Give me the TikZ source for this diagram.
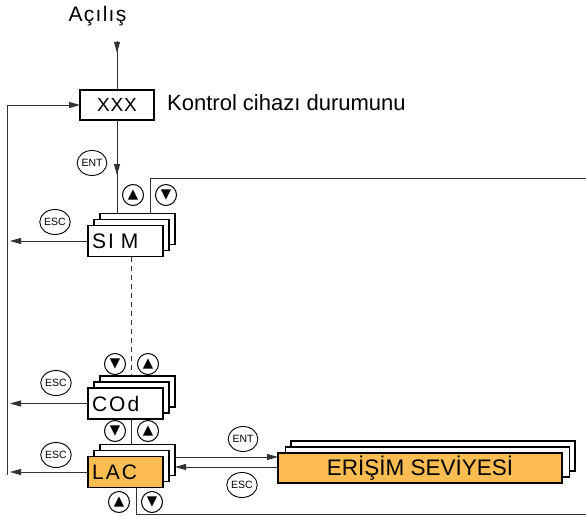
\documentclass[tikz,border=0pt]{standalone}
\usepackage{fontspec}
\setmainfont{Liberation Sans}
\newfontfamily\symfont{DejaVu Sans}
\usetikzlibrary{arrows.meta,decorations.markings,shapes.geometric}
\definecolor{accor}{RGB}{251,188,82}
\definecolor{lncol}{RGB}{50,50,50}
\begin{document}
\begin{tikzpicture}[x=1pt,y=-1pt,
  card/.style={draw=black, line width=1.8pt, fill=white, minimum width=75pt, minimum height=31pt, inner sep=0pt, outer sep=0pt},
  disp/.style={font=\fontsize{21}{21}\selectfont\addfontfeature{LetterSpace=10}, text width=67pt, align=left, inner xsep=4pt},
  btn/.style={draw=black, line width=1pt, circle, fill=white, minimum size=21pt, inner sep=0pt, font=\symfont\fontsize{13.5}{13.5}\selectfont},
  keybtn/.style={draw=black, line width=0.9pt, ellipse, fill=white, minimum width=28pt, minimum height=25pt, inner sep=0pt, font=\fontsize{10.5}{10.5}\selectfont},
  conn/.style={draw=lncol, line width=0.9pt},
  hd/.tip={Triangle[length=11pt,width=6pt]},
  midarr/.style={postaction={decorate}, decoration={markings, mark=at position #1 with {\arrow{hd}}}},
]
\path[use as bounding box] (0,0) rectangle (586,519);

% texts
\node[font=\fontsize{21}{21}\selectfont\addfontfeature{LetterSpace=6}, anchor=base, inner sep=0pt] (acilis) at (97.5,22) {Açılış};
\coordinate (acstart) at (117,41);
\node[card, minimum width=74pt, minimum height=30pt, font=\fontsize{19}{19}\selectfont\addfontfeature{LetterSpace=4}] (xxx) at (117,105) {XXX};
\node[font=\fontsize{22}{22}\selectfont, anchor=base west, inner sep=0pt] (ctl) at (167,110) {Kontrol cihazı durumunu};

% SIM stack
\node[card] (simB) at (137.5,229) {};
\node[card] (simM) at (131.5,235) {};
\node[card, disp] (sim) at (125.5,241) {SI M};

% COd stack
\node[card] (codB) at (137.5,391.5) {};
\node[card] (codM) at (131.5,397.5) {};
\node[card, disp] (cod) at (125.5,403.5) {COd};

% LAC stack
\node[card] (lacB) at (137.5,460) {};
\node[card] (lacM) at (131.5,466) {};
\node[card, disp, fill=accor] (lac) at (125.5,472) {LAC};

% ERISIM stack
\node[card, minimum width=284pt, minimum height=30pt] (eriB) at (433,456) {};
\node[card, minimum width=284pt, minimum height=30pt] (eriM) at (427.5,462) {};
\node[card, minimum width=284pt, minimum height=30pt, fill=accor, font=\fontsize{22.5}{22.5}\selectfont] (eri) at (420,468) {ERİŞİM SEVİYESİ};

% coordinates
\coordinate (loopbot) at (7,475);
\coordinate (escL) at (10,0);
\coordinate (rt1) at (586,178);
\coordinate (rt2) at (586,514);

% connectors
\draw[conn, midarr=0.24] (acstart) -- (xxx.north);
\draw[conn, midarr=0.59] (xxx.south) -- (xxx.south |- simB.north);
\draw[conn, -{hd}] (loopbot) |- (xxx.west);
\draw[conn, -{hd}] (sim.west) -- (sim.west -| escL);
\draw[conn, -{hd}] (cod.west) -- (cod.west -| escL);
\draw[conn, -{hd}] (lac.west) -- (lac.west -| escL);
\draw[conn] ([xshift=12.5pt]simB.north) |- (rt1);
\draw[conn, dash pattern=on 5pt off 4pt] (simM.center |- sim.south) -- (simM.center |- codB.north);
\draw[conn] (codM.center |- cod.south) -- (codM.center |- lacB.north);
\draw[conn] ([xshift=10.5pt]lac.south) |- (rt2);
\draw[conn, -{hd}] ([yshift=3pt]lacB.east) -- ([yshift=3pt]lacB.east -| eri.west);
\draw[conn, -{hd}] ([yshift=-7pt]lacB.east -| eri.west) -- ([yshift=-7pt]lacB.east);

% buttons
\node[keybtn] (ent1) at (92,163) {ENT};
\node[btn] (u1) at (133,195) {▲};
\node[btn] (d1) at (166,195) {▼};
\node[keybtn] (esc1) at (55,222) {ESC};
\node[btn] (d2) at (115,364) {▼};
\node[btn] (u2) at (148,364) {▲};
\node[keybtn] (esc2) at (56,383) {ESC};
\node[btn] (d3) at (115,431) {▼};
\node[btn] (u3) at (148,431) {▲};
\node[keybtn] (esc3) at (56,455) {ESC};
\node[btn] (u4) at (119,502) {▲};
\node[btn] (d4) at (152,502) {▼};
\node[keybtn] (ent2) at (243,439) {ENT};
\node[keybtn] (esc4) at (242,485) {ESC};
\end{tikzpicture}
\end{document}
